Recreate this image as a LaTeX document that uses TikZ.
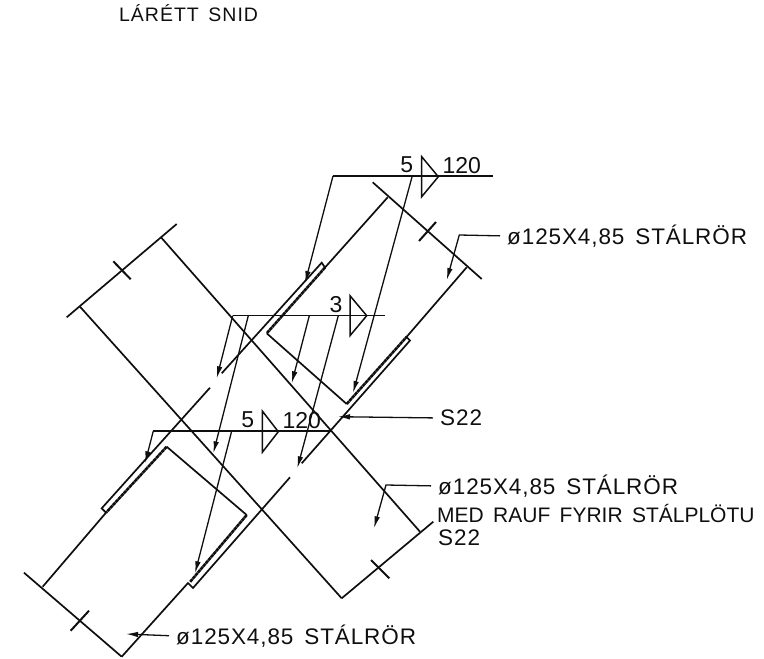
\documentclass[tikz,border=0pt]{standalone}
\usepackage{fontspec}
\setmainfont{Liberation Sans}
\usetikzlibrary{arrows,arrows.meta}
\definecolor{blek}{RGB}{15,15,15}
\tikzset{
	rorlina/.style={line width=1.7pt},
	suda/.style={line width=2.6pt, dash pattern=on 3.5pt off 0.5pt},
	visir/.style={line width=1.3pt, shorten <=7pt, -{Latex[length=12pt,width=5.5pt]}},
	lina/.style={line width=1.3pt},
	merki/.style={line width=1.5pt, line join=miter},
	hak/.style={line width=2pt},
	texti/.style={inner sep=0pt, anchor=west, font=\fontsize{22.5}{22.5}\selectfont\addfontfeature{LetterSpace=4}},
	stor/.style={inner sep=0pt, font=\fontsize{23}{23}\selectfont},
}

\begin{document}
\begin{tikzpicture}[blek, x=1pt, y=-1pt]
	\useasboundingbox (0,0) rectangle (764,659);

	% Textar
	\node[texti, font=\fontsize{19.5}{19.5}\selectfont\addfontfeature{LetterSpace=5}] (T1) at (119,13) {LÁRÉTT\, SNID};
	\node[texti] (T2) at (507,236) {ø125X4,85\, STÁLRÖR};
	\node[texti] (T3) at (438,486) {ø125X4,85\, STÁLRÖR};
	\node[texti, font=\fontsize{21}{21}\selectfont] (T4) at (437,513) {MED\, RAUF\, FYRIR\, STÁLPLÖTU};
	\node[texti] (T5) at (438,538) {S22};
	\node[texti] (T6) at (440,418) {S22};
	\node[texti] (T7) at (176,636) {ø125X4,85\, STÁLRÖR};

	% Efra ror
	\coordinate (A1) at (372.7,182.3);
	\coordinate (A2) at (481.7,279);
	\coordinate (A3) at (419,241);
	\coordinate (A4) at (436,222);
	\draw[rorlina] (A1) -- (A2);
	\draw[hak] (A3) -- (A4);

	\coordinate (B1) at (387.7,197.3);
	\coordinate (B2) at (325,267.5);
	\coordinate (B3) at (321.7,262.7);
	\coordinate (B4) at (221.7,373.3);
	\coordinate (B5) at (266.7,333.3);
	\coordinate (B6) at (346.7,404);
	\coordinate (B7) at (406.5,337);
	\coordinate (B8) at (410,340.5);
	\coordinate (B9) at (301.7,463.3);
	\coordinate (B10) at (466.7,267.3);
	\draw[rorlina] (B1) -- (B2) -- (B3) -- (B4);
	\draw[rorlina] (B5) -- (B6);
	\draw[suda] (B2) -- (B5);
	\draw[suda] (B6) -- (B7);
	\draw[rorlina] (B10) -- (B7) -- (B8) -- (B9);

	% Nedra ror
	\coordinate (C1) at (24,572.7);
	\coordinate (C2) at (121.7,656.7);
	\coordinate (C3) at (70.7,630.7);
	\coordinate (C4) at (89,610.7);
	\draw[rorlina] (C1) -- (C2);
	\draw[hak] (C3) -- (C4);

	\coordinate (D1) at (210,387.7);
	\coordinate (D2) at (101.7,508.3);
	\coordinate (D3) at (106,512.7);
	\coordinate (D4) at (42.7,586.7);
	\coordinate (D5) at (166.7,446.7);
	\coordinate (D6) at (246.7,515);
	\coordinate (D7) at (190,582);
	\coordinate (D8) at (193,588);
	\coordinate (D9) at (188,583);
	\coordinate (D10) at (290,477.3);
	\draw[rorlina] (D1) -- (D2) -- (D3) -- (D4);
	\draw[rorlina] (D5) -- (D6);
	\draw[suda] (D5) -- (D3);
	\draw[suda] (D6) -- (D7);
	\draw[rorlina] (D10) -- (D8) -- (D9) -- (C2);

	% Skaror
	\coordinate (E1) at (66.7,317.3);
	\coordinate (E2) at (176.7,224);
	\coordinate (E3) at (113.3,261.3);
	\coordinate (E4) at (130.7,279.3);
	\draw[rorlina] (E1) -- (E2);
	\draw[hak] (E3) -- (E4);

	\coordinate (F1) at (80,306.7);
	\coordinate (F2) at (341.7,598.3);
	\coordinate (F3) at (161,237.3);
	\coordinate (F4) at (420,531.7);
	\draw[rorlina] (F1) -- (F2);
	\draw[rorlina] (F3) -- (F4);

	\coordinate (G1) at (433.3,521.7);
	\coordinate (G2) at (371,560);
	\coordinate (G3) at (389.3,578.3);
	\draw[rorlina] (F2) -- (G1);
	\draw[hak] (G2) -- (G3);

	% Sudumerki efst
	\coordinate (H1) at (333,176);
	\coordinate (H2) at (493,176);
	\coordinate (H3) at (305,283);
	\coordinate (H4) at (412,177);
	\coordinate (H5) at (353,393);
	\draw[lina] (H1) -- (H2);
	\draw[visir, shorten <=0pt] (H1) -- (H3);
	\draw[visir, shorten <=0pt] (H4) -- (H5);
	\coordinate (H6) at (421.7,156.7);
	\coordinate (H7) at (438.3,176.7);
	\coordinate (H8) at (421.7,196.7);
	\draw[merki] (H6) -- (H7) -- (H8) -- cycle;
	\node[stor] (H9) at (406.7,165) {5};
	\node[stor] (H10) at (461.7,166) {120};

	% Sudumerki i midju
	\coordinate (I1) at (232.7,315.7);
	\coordinate (I2) at (385,315.7);
	\coordinate (I3) at (216.7,378.3);
	\coordinate (I4) at (248.3,315.7);
	\coordinate (I5) at (213.3,453.3);
	\coordinate (I6) at (309.3,315.7);
	\coordinate (I7) at (291.7,383.3);
	\coordinate (I8) at (338.3,315.7);
	\coordinate (I9) at (297.3,468.3);
	\draw[lina] (I1) -- (I2);
	\draw[visir, shorten <=0pt] (I1) -- (I3);
	\draw[visir, shorten <=0pt] (I4) -- (I5);
	\draw[visir, shorten <=0pt] (I6) -- (I7);
	\draw[visir, shorten <=0pt] (I8) -- (I9);
	\coordinate (I10) at (350,295.7);
	\coordinate (I11) at (366.7,315.7);
	\coordinate (I12) at (350,335.7);
	\draw[merki] (I10) -- (I11) -- (I12) -- cycle;
	\node[stor] (I13) at (336,305) {3};

	% Sudumerki nedst
	\coordinate (J1) at (153.3,431);
	\coordinate (J2) at (331,431);
	\coordinate (J3) at (145,463.3);
	\coordinate (J4) at (231.7,431);
	\coordinate (J5) at (195,573.3);
	\draw[lina] (J1) -- (J2);
	\draw[visir, shorten <=0pt] (J1) -- (J3);
	\draw[visir, shorten <=0pt] (J4) -- (J5);
	\coordinate (J6) at (262.3,411);
	\coordinate (J7) at (278.3,431.7);
	\coordinate (J8) at (262.3,452.3);
	\draw[merki] (J6) -- (J7) -- (J8) -- cycle;
	\node[stor] (J9) at (247.7,420) {5};
	\node[stor] (J10) at (301.7,420.7) {120};

	% Visar ad textum
	\coordinate (K1) at (459.3,235);
	\coordinate (K2) at (446.7,280);
	\draw[visir] (T2.west) -- (K1) -- (K2);
	\coordinate (K3) at (386,485);
	\coordinate (K4) at (374,528.3);
	\draw[visir] (T3.west) -- (K3) -- (K4);
	\coordinate (K5) at (338,416.7);
	\draw[visir] (T6.west) -- (K5);
	\coordinate (K6) at (126,634);
	\draw[visir] (T7.west) -- (K6);

\end{tikzpicture}
\end{document}
